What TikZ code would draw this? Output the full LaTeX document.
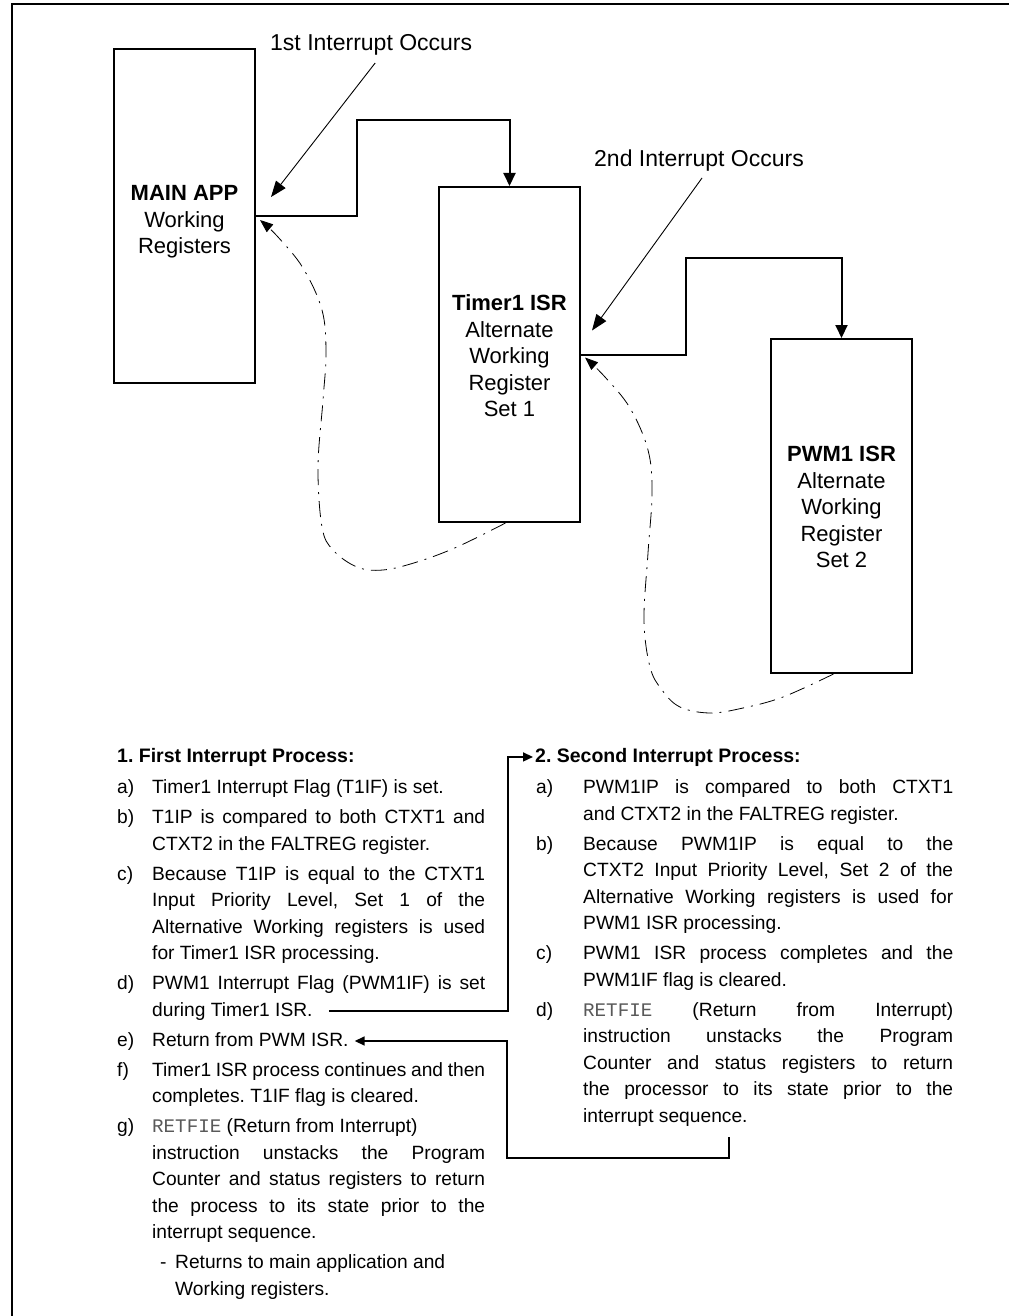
\documentclass[tikz,border=0pt]{standalone}
\usepackage{fontspec}
\setmainfont{Liberation Sans}
\newfontfamily\retmono{Liberation Mono}
\usetikzlibrary{arrows.meta}
\frenchspacing
\newcommand\J[1]{\makebox[\linewidth][s]{#1}}
\newcommand\RET{\leavevmode{\retmono\color{black!65}RETFIE}}
\newcommand\itemL[2]{\makebox[35pt][l]{#1}\parbox[t]{333pt}{#2}}
\newcommand\itemR[2]{\makebox[47pt][l]{#1}\parbox[t]{370pt}{#2}}
\begin{document}
\begin{tikzpicture}[x=1pt,y=-1pt,
  regbox/.style={draw, line width=2pt, minimum width=141pt, inner sep=0pt},
  boxtext/.style={inner sep=0pt, align=center, font=\fontsize{22}{26.5}\selectfont},
  conn/.style={line width=2pt, -{Triangle[length=13pt,width=12pt]}},
  irq/.style={line width=0.9pt, -{Triangle[length=16pt,width=12pt]}},
  ret/.style={line width=0.8pt, dash pattern=on 16pt off 7pt on 2pt off 7pt, -{Triangle[length=13pt,width=10pt]}},
  lbl/.style={inner sep=0pt, anchor=base west, font=\fontsize{23}{27}\selectfont},
  item/.style={inner sep=0pt, anchor=base west, font=\fontsize{19.2}{26.5}\selectfont\frenchspacing},
  head/.style={inner sep=0pt, anchor=base west, font=\fontsize{19.5}{26.5}\selectfont\bfseries},
  txtarr/.style={line width=1.6pt, -{Triangle[length=10pt,width=9pt]}},
]
\useasboundingbox (0,0) rectangle (1009,1316);
% frame
\draw[line width=1.8pt] (12,1316) -- (12,4) -- (1009,4);

% register boxes
\node[regbox, minimum height=334pt] (main) at (184.5,216) {};
\node[boxtext] (mainT) at (184.5,222) {\textbf{MAIN APP}\\Working\\Registers};
\node[regbox, minimum height=335pt] (t1) at (509.5,354.5) {};
\node[boxtext] (t1T) at (509.5,356) {\textbf{Timer1 ISR}\\Alternate\\Working\\Register\\Set 1};
\node[regbox, minimum height=334pt] (pwm) at (841.5,506) {};
\node[boxtext] (pwmT) at (841.5,507) {\textbf{PWM1 ISR}\\Alternate\\Working\\Register\\Set 2};

% solid connectors
\coordinate (b1) at (357,120);
\coordinate (b2) at (686,258);
\draw[conn] (main.east) -| (b1) -| (t1.north);
\draw[conn] (t1.east) -| (b2) -| (pwm.north);

% interrupt labels and arrows
\node[lbl] (irq1) at (270,51) {1st Interrupt Occurs};
\node[lbl] (irq2) at (594,167) {2nd Interrupt Occurs};
\draw[irq] ([xshift=4pt,yshift=-7pt]irq1.south) -- ([xshift=15pt,yshift=19pt]main.east);
\draw[irq] ([xshift=3pt,yshift=-6pt]irq2.south) -- ([xshift=11pt,yshift=24pt]t1.east);

% return curves
\draw[ret] plot[smooth, tension=0.6] coordinates {([xshift=-4pt]t1.south) (457,547) (417,562) (383,570) (357,567) (333,550) (322,527) (318,467) (323,400) (326,353) (322,310) (303,268) (278,237) ([xshift=4pt,yshift=-4pt]main.east)};
\draw[ret] plot[smooth, tension=0.6] coordinates {([xshift=-8pt]pwm.south) (783,697) (743,708) (710,713) (680,707) (662,690) (650,667) (644,620) (648,553) (652,493) (648,450) (630,408) (605,377) ([xshift=4pt,yshift=-3pt]t1.east)};

% headings
\node[head] (h1) at (117,762) {1. First Interrupt Process:};
\node[head] (h2) at (535,762) {2. Second Interrupt Process:};

% left column
\node[item] (la) at (117,793.5) {\itemL{a)}{Timer1 Interrupt Flag (T1IF) is set.}};
\node[item] (lb) at (117,823.5) {\itemL{b)}{\J{T1IP is compared to both CTXT1 and}\\CTXT2 in the FALTREG register.}};
\node[item] (lc) at (117,880) {\itemL{c)}{\J{Because T1IP is equal to the CTXT1}\\\J{Input Priority Level, Set 1 of the}\\\J{Alternative Working registers is used}\\for Timer1 ISR processing.}};
\node[item] (ld) at (117,989.5) {\itemL{d)}{\J{PWM1 Interrupt Flag (PWM1IF) is set}}};
\node[item] (dline) at (152,1016) {during Timer1 ISR.};
\node[item] (le) at (117,1046) {\makebox[35pt][l]{e)}Return from PWM ISR.};
\node[item] (lf) at (117,1076) {\itemL{f)}{\J{Timer1 ISR process continues and then}\\completes. T1IF flag is cleared.}};
\node[item] (lg) at (117,1132.5) {\itemL{g)}{\RET{} (Return from Interrupt)\\\J{instruction unstacks the Program}\\\J{Counter and status registers to return}\\\J{the process to its state prior to the}\\interrupt sequence.}};
\node[item] (ldash) at (152,1268.5) {\makebox[23pt][l]{\hspace{8pt}-}\parbox[t]{310pt}{Returns to main application and\\Working registers.}};

% right column
\node[item] (ra) at (536,793.5) {\itemR{a)}{\J{PWM1IP is compared to both CTXT1}\\and CTXT2 in the FALTREG register.}};
\node[item] (rb) at (536,850) {\itemR{b)}{\J{Because PWM1IP is equal to the}\\\J{CTXT2 Input Priority Level, Set 2 of the}\\\J{Alternative Working registers is used for}\\PWM1 ISR processing.}};
\node[item] (rc) at (536,959.5) {\itemR{c)}{\J{PWM1 ISR process completes and the}\\PWM1IF flag is cleared.}};
\node[item] (rd) at (536,1016) {\itemR{d)}{\J{\RET{} (Return from Interrupt)}\\\J{instruction unstacks the Program}\\\J{Counter and status registers to return}\\\J{the processor to its state prior to the}\\interrupt sequence.}};

% text connectors
\coordinate (c1s) at ([xshift=16pt,yshift=5pt]dline.base east);
\coordinate (c1k) at (508,0);
\draw[txtarr] (c1s) -| (c1k |- h2.west) -- ([xshift=-2pt]h2.west);
\coordinate (c2s) at (729,1137);
\coordinate (c2k) at (507,1158);
\draw[txtarr] (c2s) |- (c2k) |- ([xshift=6pt,yshift=5pt]le.base east);
\end{tikzpicture}
\end{document}
